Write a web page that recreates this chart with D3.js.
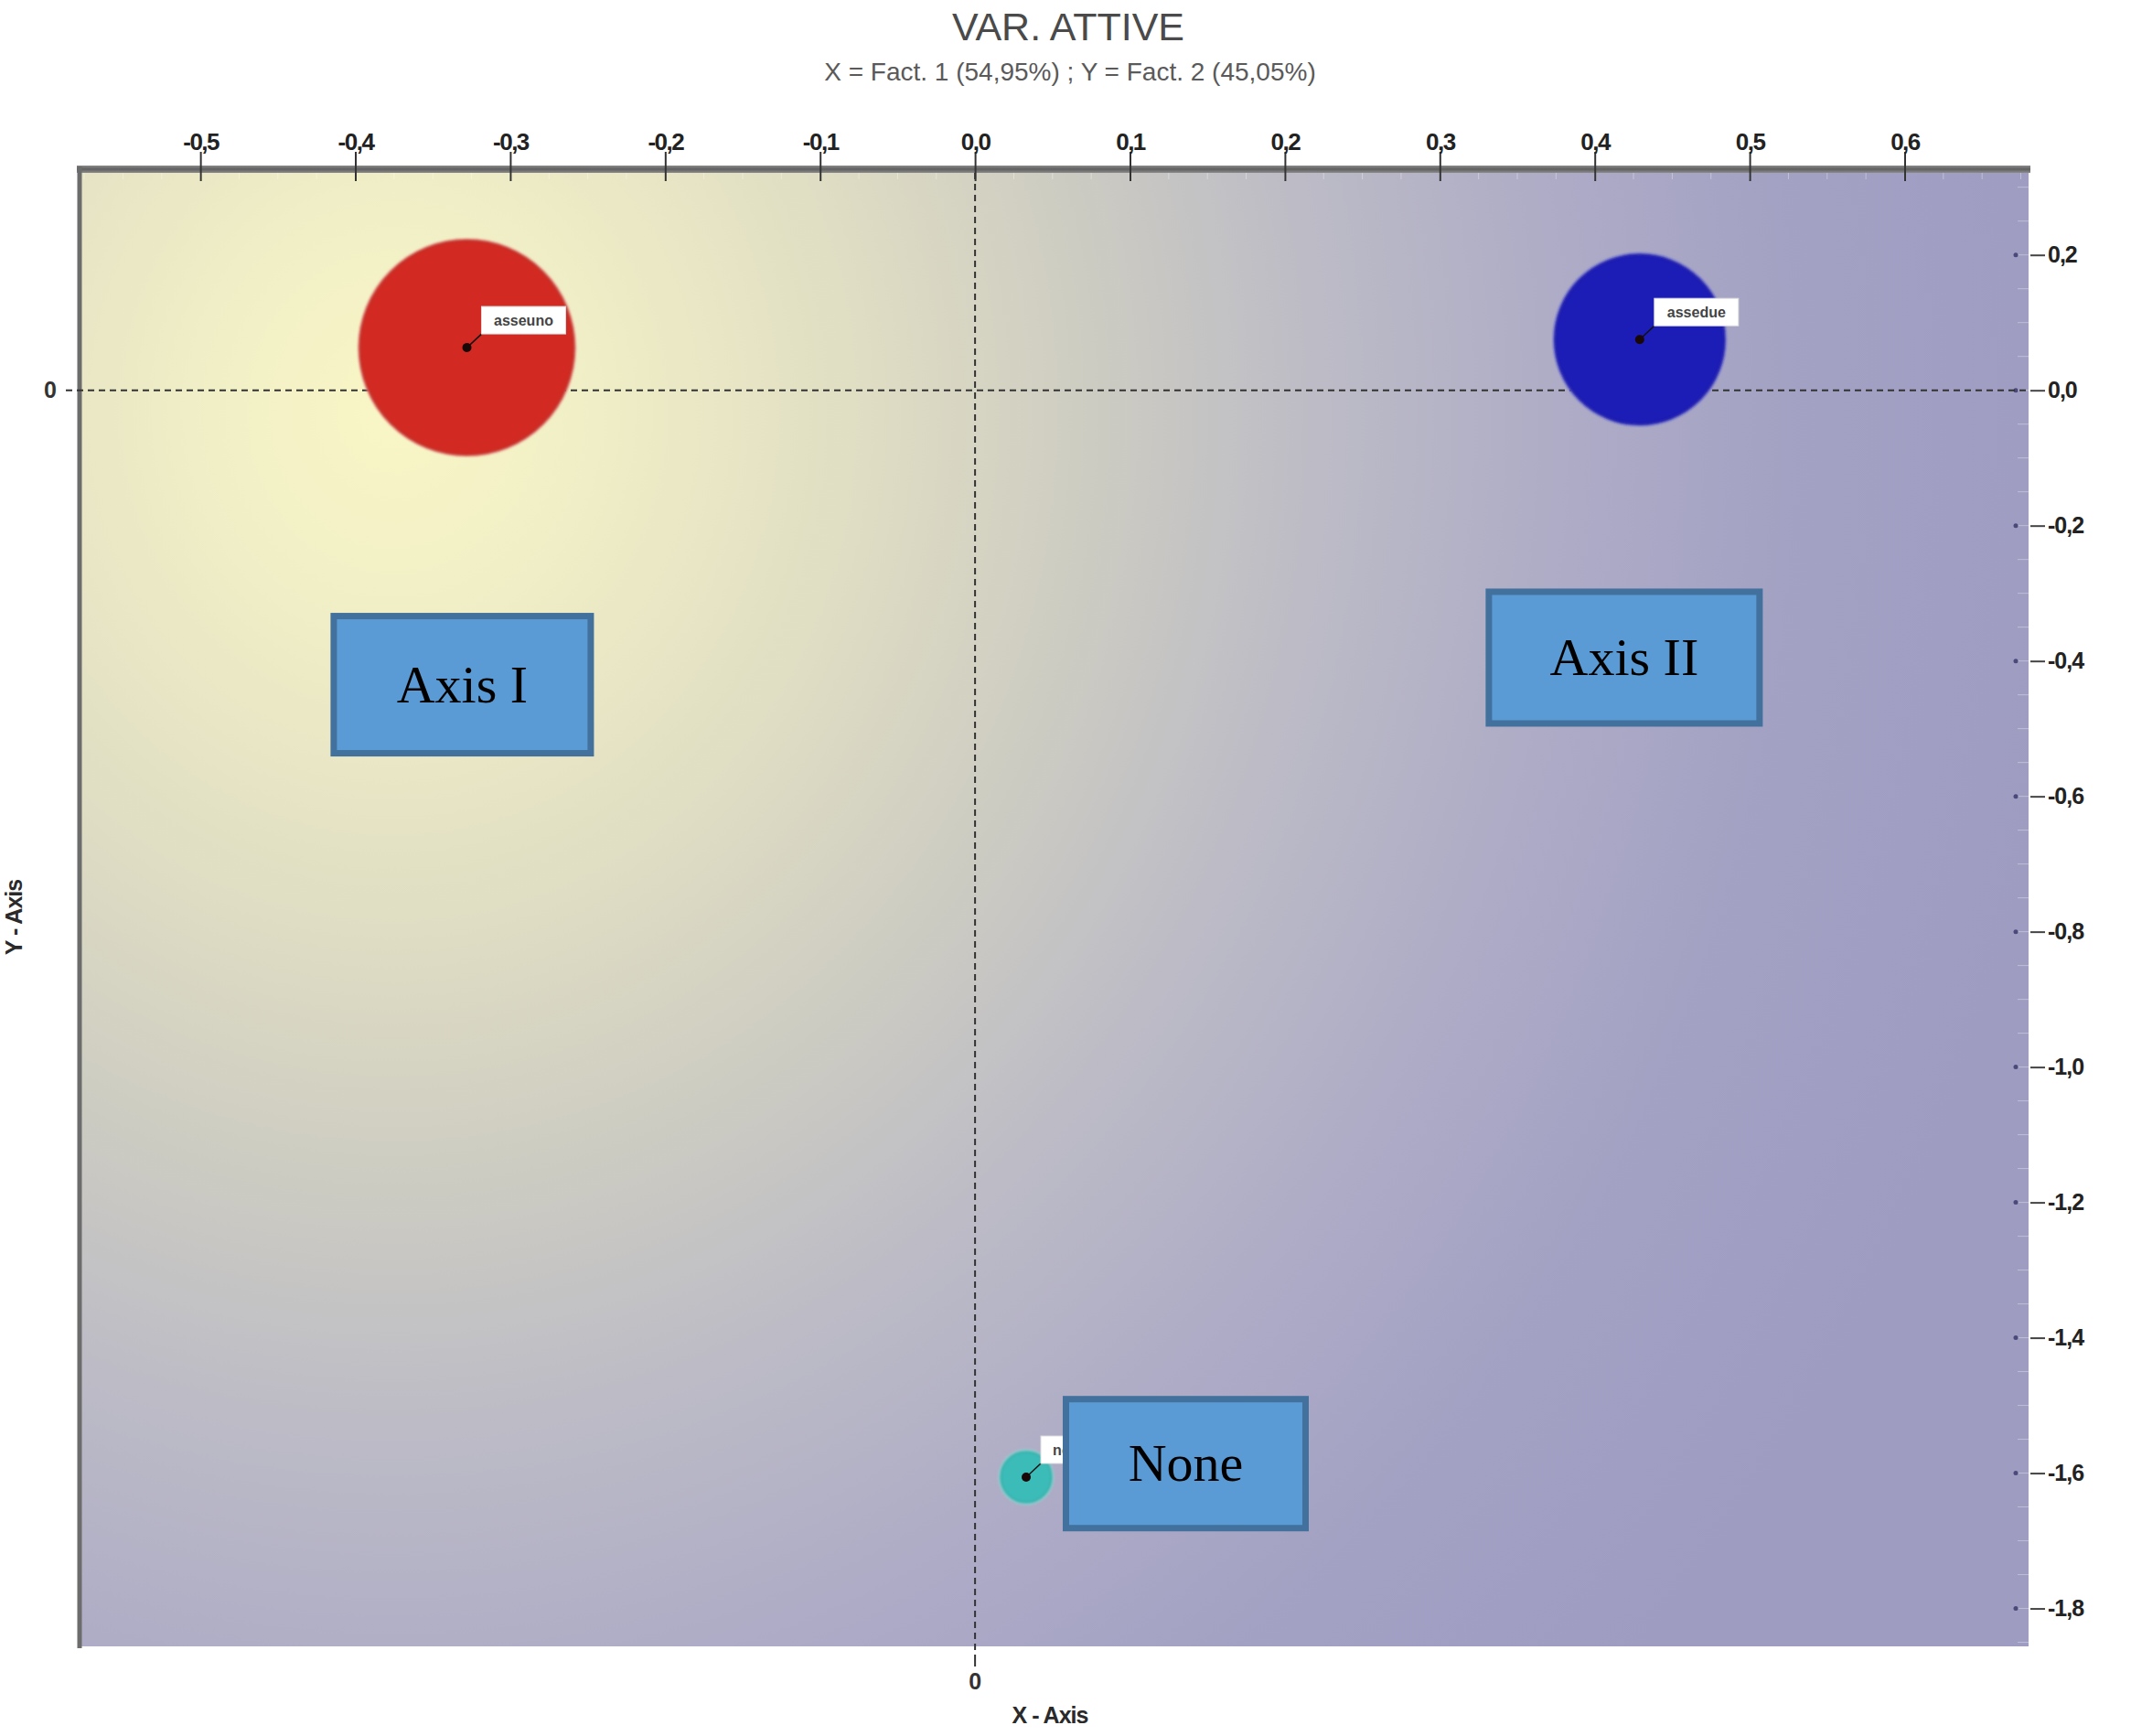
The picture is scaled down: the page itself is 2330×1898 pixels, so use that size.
<!DOCTYPE html>
<html>
<head>
<meta charset="utf-8">
<script src="https://cdn.jsdelivr.net/npm/d3@7/dist/d3.min.js"></script>
<style>
  body { margin: 0; background: #fff; }
  svg text { font-family: "Liberation Sans", Arial, sans-serif; }
</style>
</head>
<body>
<div id="viz"></div>
<script>
// data
var names   = ['asseuno', 'assedue', 'nessuno'],
    factX   = [-0.328, 0.429, 0.033],
    factY   = [0.063, 0.075, -1.606],
    weights = [1.00, 0.63, 0.057],
    colours = ['#d22b22', '#1c1cb6', '#3bbcb8'],
    xTicks  = [-0.5, -0.4, -0.3, -0.2, -0.1, 0, 0.1, 0.2, 0.3, 0.4, 0.5, 0.6],
    yTicks  = [0.2, 0, -0.2, -0.4, -0.6, -0.8, -1.0, -1.2, -1.4, -1.6, -1.8],
    noteText = ['Axis I', 'Axis II', 'None'],
    noteX    = [-0.331, 0.419, 0.136],
    noteY    = [-0.435, -0.395, -1.586];

// note: "top" is taken by window.top, so use pl/pr/pt/pb
var W = 2330, H = 1898,
    pl = 87, pr = 2218, pt = 184, pb = 1800;

var x = d3.scaleLinear().domain([-0.578, 0.680]).range([pl, pr]),
    y = d3.scaleLinear().domain([0.328, -1.856]).range([pt, pb]),
    r = d3.scaleSqrt().domain([0, 1]).range([0, 117]);

var it = d3.formatLocale({decimal: ',', thousands: '.', grouping: [3], currency: ['', ''], minus: '-'});
var fmt = it.format('.1f');

var svg = d3.select('#viz').append('svg')
  .attr('width', W).attr('height', H);

var defs = svg.append('defs');
// elliptical glow, a bit taller than wide
var bg = defs.append('radialGradient').attr('id', 'bg')
  .attr('gradientUnits', 'userSpaceOnUse')
  .attr('cx', 0).attr('cy', 0).attr('r', 1)
  .attr('gradientTransform', 'translate(430,450) scale(1850,2030)');
[[0, '#f9f7c6'], [0.12, '#f0eec6'], [0.28, '#dfddc3'], [0.42, '#cccbc2'],
 [0.55, '#bcbbc6'], [0.7, '#adabc6'], [0.85, '#a2a0c3'], [1, '#9e9cc1']].forEach(function(s) {
  bg.append('stop').attr('offset', s[0]).attr('stop-color', s[1]);
});
var tb = defs.append('linearGradient').attr('id', 'topbar')
  .attr('x1', 0).attr('y1', 0).attr('x2', 0).attr('y2', 1);
tb.append('stop').attr('offset', 0).attr('stop-color', '#8a8a8a');
tb.append('stop').attr('offset', 0.5).attr('stop-color', '#5f5f5f');
tb.append('stop').attr('offset', 1).attr('stop-color', '#8c8c8c');
defs.append('filter').attr('id', 'soft')
  .append('feGaussianBlur').attr('stdDeviation', 1.4);

// plot background
svg.append('rect')
  .attr('x', pl).attr('y', pt)
  .attr('width', pr - pl).attr('height', pb - pt)
  .attr('fill', 'url(#bg)');

// faint minor ticks along the edges
var minorX = d3.range(-0.575, 0.68, 0.025);
svg.append('g').selectAll('line').data(minorX).enter().append('line')
  .attr('x1', d => x(d)).attr('x2', d => x(d))
  .attr('y1', pt).attr('y2', pt + 12)
  .attr('stroke', '#ffffff').attr('stroke-opacity', 0.35);
var minorY = d3.range(0.3, -1.86, -0.05);
svg.append('g').selectAll('line').data(minorY).enter().append('line')
  .attr('x1', pr - 12).attr('x2', pr)
  .attr('y1', d => y(d)).attr('y2', d => y(d))
  .attr('stroke', '#ffffff').attr('stroke-opacity', 0.35);

// frame: top bar and left line
svg.append('rect')
  .attr('x', pl - 3).attr('y', pt - 3)
  .attr('width', pr - pl + 5).attr('height', 8)
  .attr('fill', 'url(#topbar)');
svg.append('line')
  .attr('x1', pl).attr('x2', pl)
  .attr('y1', pt - 2).attr('y2', pb + 2)
  .attr('stroke', '#6c6c6c').attr('stroke-width', 5);

// top axis
var xAxis = d3.axisTop(x).tickValues(xTicks).tickFormat(fmt)
  .tickSize(32).tickPadding(2);
var gx = svg.append('g')
  .attr('transform', 'translate(0,' + (pt + 14) + ')')
  .call(xAxis);
gx.select('.domain').remove();
gx.selectAll('line').attr('stroke', '#333').attr('stroke-width', 2);
gx.selectAll('text')
  .attr('fill', '#222')
  .style('font-size', '26px').style('font-weight', 'bold')
  .style('letter-spacing', '-1.5px');

// right axis
var yAxis = d3.axisRight(y).tickValues(yTicks).tickFormat(fmt)
  .tickSize(16).tickPadding(3);
var gy = svg.append('g')
  .attr('transform', 'translate(' + (pr + 2) + ',0)')
  .call(yAxis);
gy.select('.domain').remove();
gy.selectAll('line').attr('stroke', '#444').attr('stroke-width', 2);
gy.selectAll('text')
  .attr('fill', '#222')
  .style('font-size', '25px').style('font-weight', 'bold')
  .style('letter-spacing', '-1px');
svg.append('g').selectAll('circle').data(yTicks).enter().append('circle')
  .attr('cx', pr - 14).attr('cy', d => y(d)).attr('r', 2.5)
  .attr('fill', '#4a4a7a');

// zero lines
svg.append('line')
  .attr('x1', 72).attr('x2', pr)
  .attr('y1', y(0)).attr('y2', y(0))
  .attr('stroke', '#333').attr('stroke-width', 2)
  .attr('stroke-dasharray', '7,5');
svg.append('line')
  .attr('x1', x(0)).attr('x2', x(0))
  .attr('y1', pt + 5).attr('y2', pb + 18)
  .attr('stroke', '#333').attr('stroke-width', 2)
  .attr('stroke-dasharray', '7,5');
svg.append('line')
  .attr('x1', x(0)).attr('x2', x(0))
  .attr('y1', pb + 16).attr('y2', pb + 22)
  .attr('stroke', '#333').attr('stroke-width', 2);

svg.append('text')
  .attr('x', 55).attr('y', y(0)).attr('dy', '0.35em')
  .attr('text-anchor', 'middle')
  .style('font-size', '25px').style('font-weight', 'bold').attr('fill', '#333')
  .text('0');
svg.append('text')
  .attr('x', x(0)).attr('y', pb + 47)
  .attr('text-anchor', 'middle')
  .style('font-size', '25px').style('font-weight', 'bold').attr('fill', '#333')
  .text('0');

// axis titles
svg.append('text')
  .attr('x', 1148).attr('y', 1884)
  .attr('text-anchor', 'middle')
  .style('font-size', '25px').style('font-weight', 'bold')
  .style('letter-spacing', '-1px').attr('fill', '#2a2a2a')
  .text('X - Axis');
svg.append('text')
  .attr('transform', 'translate(24,1003) rotate(-90)')
  .attr('text-anchor', 'middle')
  .style('font-size', '25px').style('font-weight', 'bold')
  .style('letter-spacing', '-1px').attr('fill', '#2a2a2a')
  .text('Y - Axis');

// titles
svg.append('text')
  .attr('x', 1168).attr('y', 44)
  .attr('text-anchor', 'middle')
  .style('font-size', '43px').attr('fill', '#4a4a4a')
  .text('VAR. ATTIVE');
svg.append('text')
  .attr('x', 1170).attr('y', 88)
  .attr('text-anchor', 'middle')
  .style('font-size', '28px').attr('fill', '#5a5a5a')
  .text('X = Fact. 1 (54,95%) ; Y = Fact. 2 (45,05%)');

// bubbles
var points = names.map(function(n, i) {
  return {name: n, x: factX[i], y: factY[i], w: weights[i], c: colours[i]};
});

var bub = svg.append('g').selectAll('g').data(points).enter().append('g');
bub.append('circle')
  .attr('cx', d => x(d.x)).attr('cy', d => y(d.y))
  .attr('r', d => r(d.w) + 2)
  .attr('fill', d => d3.interpolateRgb(d.c, '#ffffff')(0.55))
  .attr('filter', 'url(#soft)');
bub.append('circle')
  .attr('cx', d => x(d.x)).attr('cy', d => y(d.y))
  .attr('r', d => r(d.w))
  .attr('fill', d => d.c)
  .attr('stroke', d => d3.color(d.c).darker(0.3))
  .attr('stroke-width', 2)
  .attr('filter', 'url(#soft)');

// labels with leader lines
bub.append('line')
  .attr('x1', d => x(d.x)).attr('y1', d => y(d.y))
  .attr('x2', d => x(d.x) + 16).attr('y2', d => y(d.y) - 15)
  .attr('stroke', '#111').attr('stroke-width', 1.5);
bub.append('rect')
  .attr('x', d => x(d.x) + 16).attr('y', d => y(d.y) - 45)
  .attr('width', 92).attr('height', 30)
  .attr('fill', '#fff').attr('stroke', '#ddd');
bub.append('text')
  .attr('x', d => x(d.x) + 62).attr('y', d => y(d.y) - 24)
  .attr('text-anchor', 'middle')
  .style('font-size', '16px').style('font-weight', 'bold')
  .attr('fill', '#444')
  .text(d => d.name);
bub.append('circle')
  .attr('cx', d => x(d.x)).attr('cy', d => y(d.y))
  .attr('r', 5).attr('fill', '#1a0808');

// annotation boxes
var boxW = [288, 303, 269], boxH = [157, 151, 148];
var notes = svg.append('g').selectAll('g').data(noteText).enter().append('g')
  .attr('transform', (d, i) => 'translate(' + x(noteX[i]) + ',' + y(noteY[i]) + ')');
notes.append('rect')
  .attr('x', (d, i) => -(boxW[i] - 7) / 2).attr('y', (d, i) => -(boxH[i] - 7) / 2)
  .attr('width', (d, i) => boxW[i] - 7).attr('height', (d, i) => boxH[i] - 7)
  .attr('fill', '#5b9bd5').attr('stroke', '#41719c').attr('stroke-width', 7);
notes.append('text')
  .attr('text-anchor', 'middle').attr('dy', '0.33em')
  .style('font-family', '"Liberation Serif", "Times New Roman", serif')
  .style('font-size', '58px').attr('fill', '#000')
  .text(d => d);
</script>
</body>
</html>
